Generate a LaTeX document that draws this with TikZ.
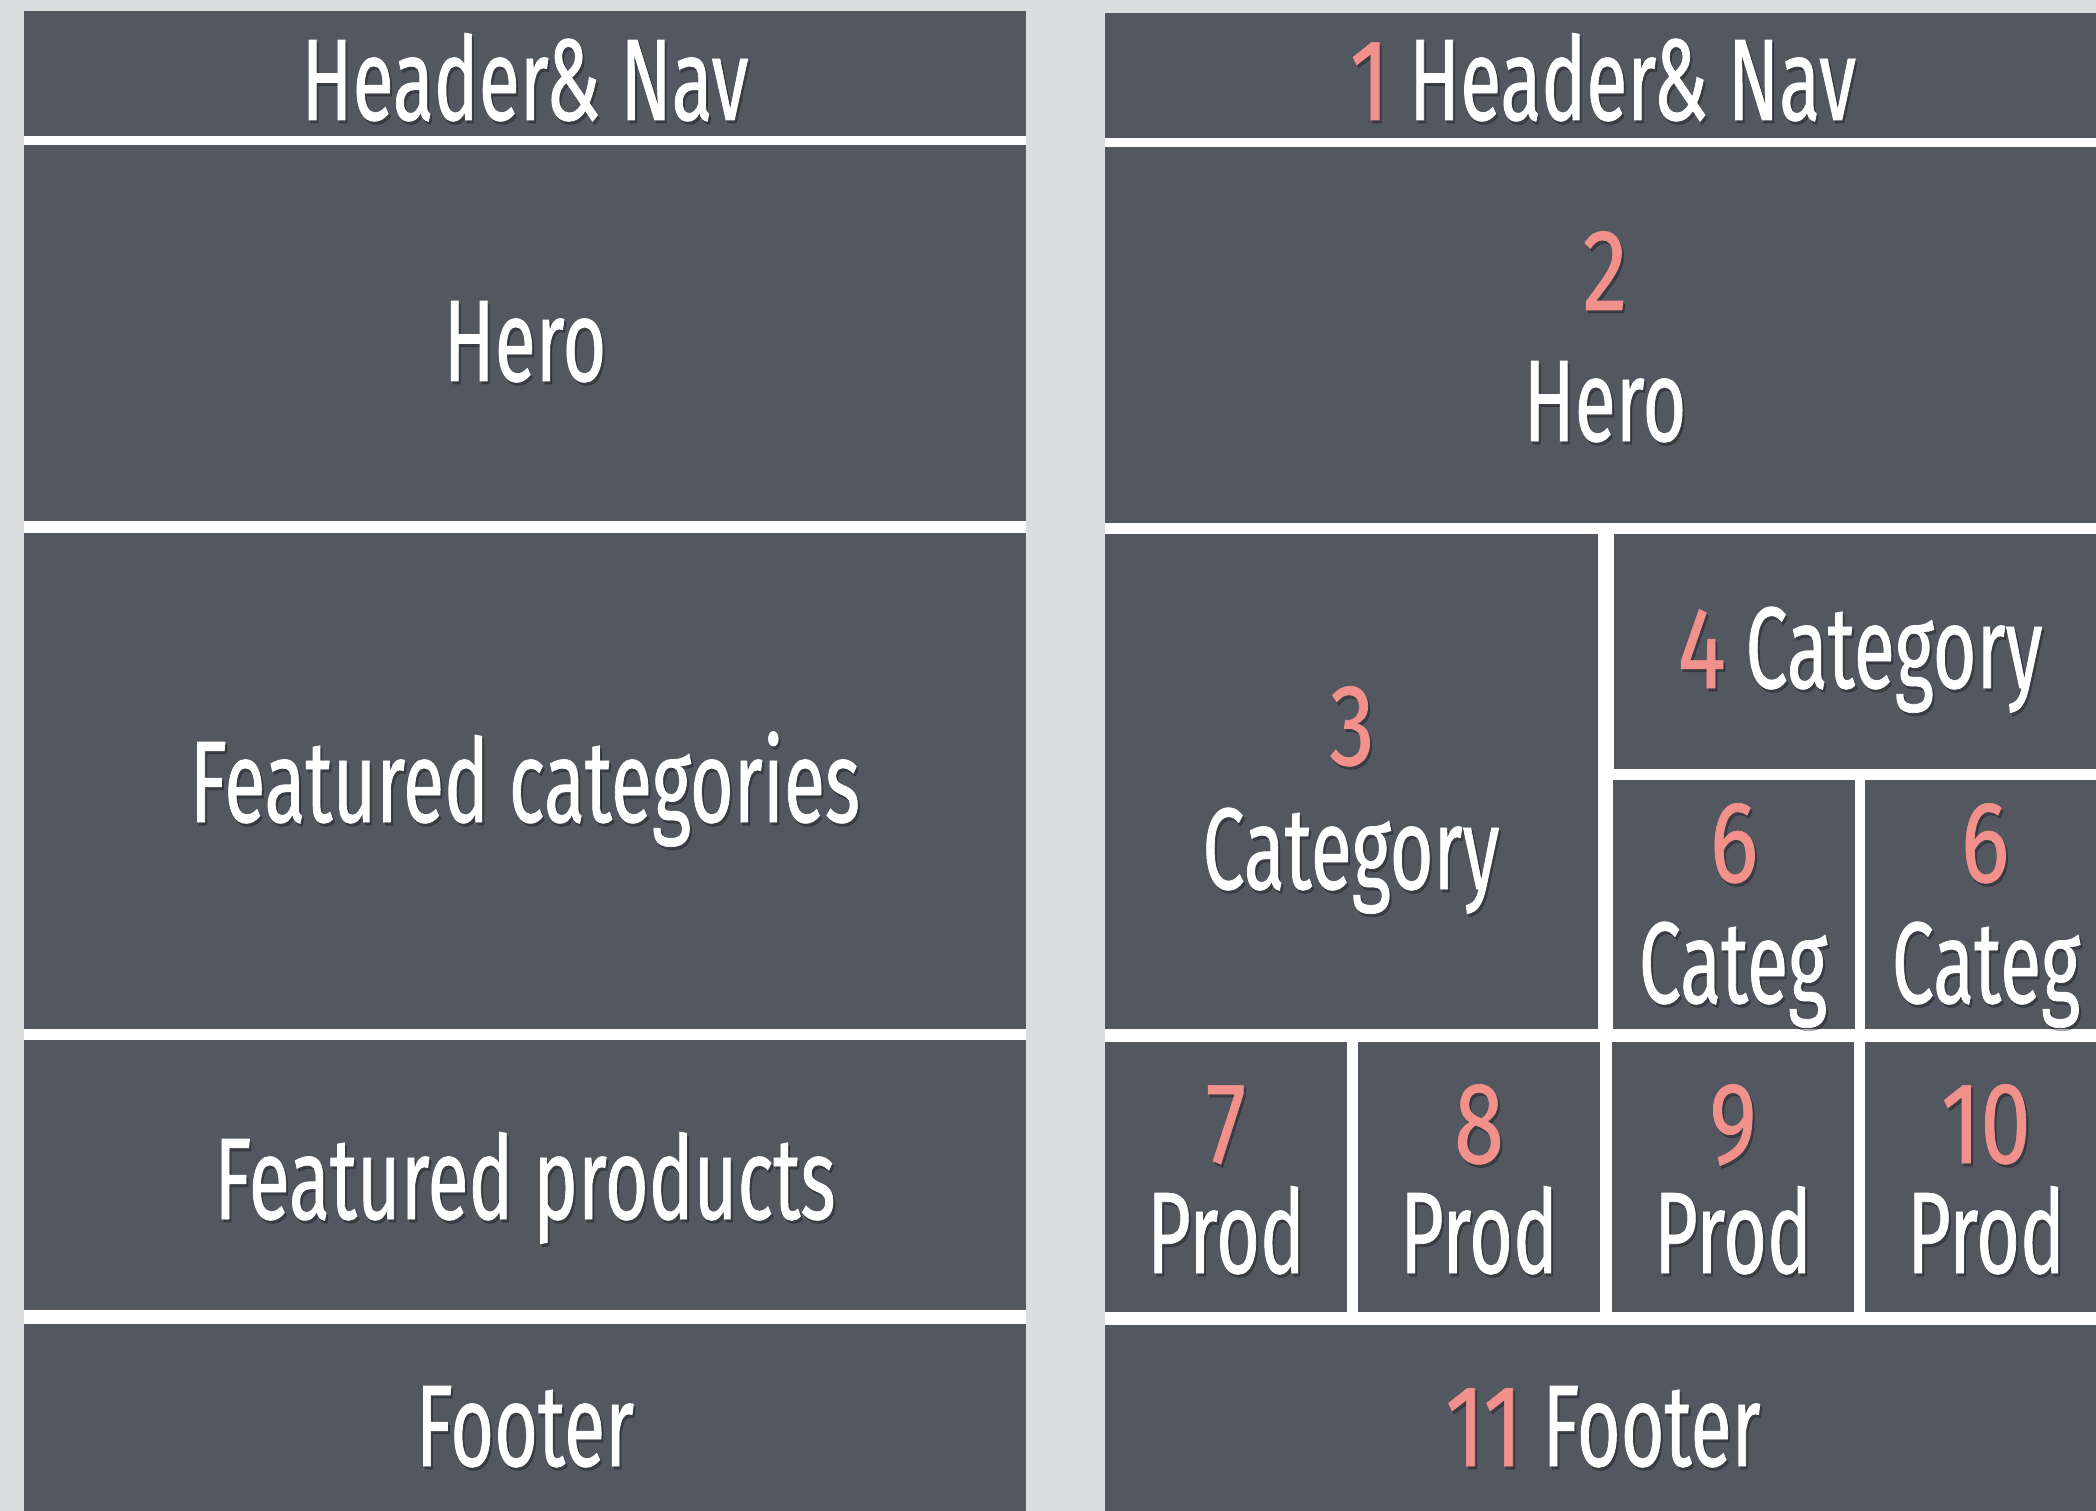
\documentclass[tikz,border=0pt]{standalone}
\usepackage{fontspec}
\setmainfont{Fira Sans}[FakeStretch=0.648,FakeBold=0.6]
\newfontfamily\numfont{Fira Sans}[FakeStretch=0.78,FakeBold=0.6]
\definecolor{bgc}{HTML}{DCDDDF}
\definecolor{boxc}{HTML}{535760}
\definecolor{numc}{HTML}{F2908C}
\def\numcolname{numc}
\newcommand\nm[1]{{\numfont\textcolor{\numcolname}{#1}}}
\tikzset{
  panelbg/.style={fill=white},
  blk/.style={fill=boxc},
  lbl/.style={text=white, anchor=base, inner sep=0pt, font=\fontsize{116}{120}\selectfont},
  lblsh/.style={lbl, text=black, text opacity=0.28, execute at begin node={\def\numcolname{black}}},
}
\newcommand\lab[4]{%
  \node[lblsh] (#1sh) at ([xshift=2pt,yshift=-3pt]#2,#3) {#4};
  \node[lbl] (#1) at (#2,#3) {#4};
}
\begin{document}
\begin{tikzpicture}[x=1pt,y=-1pt]
\useasboundingbox (0,0) rectangle (2096,1511);
\fill[bgc] (0,0) rectangle (2096,1511);
% left panel
\fill[panelbg] (24,11) rectangle (1026,1511);
\fill[blk] (24,11) rectangle (1026,136);
\fill[blk] (24,145) rectangle (1026,521);
\fill[blk] (24,533) rectangle (1026,1029);
\fill[blk] (24,1040) rectangle (1026,1310);
\fill[blk] (24,1324) rectangle (1026,1511);
% right panel
\fill[panelbg] (1105,13) rectangle (2096,1511);
\fill[blk] (1105,13) rectangle (2096,138);
\fill[blk] (1105,147) rectangle (2096,523);
\fill[blk] (1105,534) rectangle (1598,1029);
\fill[blk] (1614,534) rectangle (2096,769);
\fill[blk] (1613,780) rectangle (1855,1029);
\fill[blk] (1865,780) rectangle (2096,1029);
\fill[blk] (1105,1042) rectangle (1347,1312);
\fill[blk] (1358,1042) rectangle (1600,1312);
\fill[blk] (1612,1042) rectangle (1854,1312);
\fill[blk] (1865,1042) rectangle (2096,1312);
\fill[blk] (1105,1325) rectangle (2096,1511);
% left labels
\lab{hdrL}{525}{120}{Header\& Nav}
\lab{heroL}{525}{381}{Hero}
\lab{fcatL}{525}{822}{Featured categories}
\lab{fprodL}{525}{1219}{Featured products}
\lab{footL}{525}{1466}{Footer}
% right labels
\lab{hdrR}{1603}{120}{\nm{1} Header\& Nav}
\lab{nTwo}{1605}{310}{\nm{2}}
\lab{heroR}{1605}{441}{Hero}
\lab{nThree}{1352}{765}{\nm{3}}
\lab{catThree}{1351}{889}{Category}
\lab{catFour}{1860}{688}{\nm{4} Category}
\lab{nSixA}{1734}{882}{\nm{6}}
\lab{catSixA}{1733}{1003}{Categ}
\lab{nSixB}{1985}{882}{\nm{6}}
\lab{catSixB}{1986}{1003}{Categ}
\lab{nSeven}{1226}{1163}{\nm{7}}
\lab{pSeven}{1226}{1273}{Prod}
\lab{nEight}{1479}{1163}{\nm{8}}
\lab{pEight}{1479}{1273}{Prod}
\lab{nNine}{1733}{1163}{\nm{9}}
\lab{pNine}{1733}{1273}{Prod}
\lab{nTen}{1986}{1163}{\nm{10}}
\lab{pTen}{1986}{1273}{Prod}
\lab{footR}{1603}{1466}{\nm{11} Footer}
\end{tikzpicture}
\end{document}
